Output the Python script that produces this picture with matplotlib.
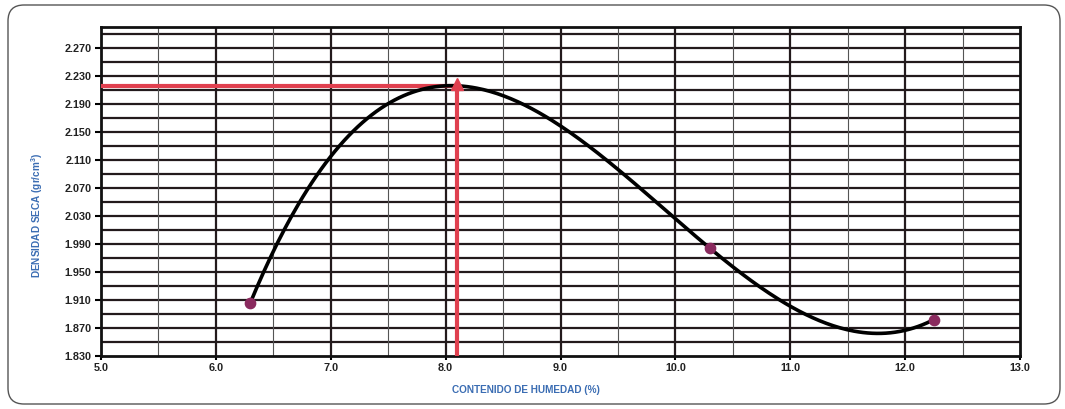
import numpy as np
from matplotlib import pyplot as plt
from matplotlib.patches import FancyBboxPatch

humedad = [6.30, 8.10, 10.30, 12.25]
densidad = [1.906, 2.216, 1.984, 1.882]
humedad_opt = 8.10
densidad_max = 2.216

x_ticks = [5.0, 6.0, 7.0, 8.0, 9.0, 10.0, 11.0, 12.0, 13.0]
y_ticks = [1.830, 1.870, 1.910, 1.950, 1.990, 2.030, 2.070, 2.110, 2.150, 2.190, 2.230, 2.270]

BLUE = "#3b6db3"
plt.rcParams["font.family"] = ["Liberation Sans", "DejaVu Sans"]
plt.rcParams["mathtext.fontset"] = "custom"
plt.rcParams["mathtext.bf"] = "Liberation Sans:bold"

W, H = 1065, 409
fig = plt.figure(figsize=(W / 100, H / 100), dpi=100)
frame = FancyBboxPatch((8 / W, 5 / H), 1052 / W, 399 / H, boxstyle="round,pad=0,rounding_size=0.015",
                       transform=fig.transFigure, facecolor="white", edgecolor="#555555",
                       linewidth=1.0, mutation_aspect=W / H, zorder=-10)
fig.patches.append(frame)
ax = fig.add_axes([101 / W, 1 - 356 / H, 919 / W, 329 / H])

ax.set_xlim(5.0, 13.0)
ax.set_ylim(1.830, 2.300)

# grid
for yv in np.arange(1.850, 2.300, 0.02):
    ax.axhline(yv, color="#231a1c", linewidth=1.6, zorder=1)
for xv in np.arange(5.5, 13.0, 0.5):
    major = abs(xv - round(xv)) < 1e-6
    ax.axvline(xv, color="#231a1c" if major else "#555555",
               linewidth=1.6 if major else 0.8, zorder=1)

# curve
coef = np.polyfit(humedad, densidad, 3)
xs = np.linspace(min(humedad), max(humedad), 300)
ax.plot(xs, np.polyval(coef, xs), color="black", linewidth=2.6, zorder=4)

# optimum lines
ax.plot([5.0, humedad_opt], [densidad_max, densidad_max], color="#e0404f", linewidth=3.0, zorder=3)
ax.plot([humedad_opt, humedad_opt], [1.830, densidad_max], color="#e0404f", linewidth=3.0, zorder=3)
ax.plot([humedad_opt], [densidad_max + 0.003], marker="^", color="#e0404f", markersize=8, zorder=5)

pts = [(h, d) for h, d in zip(humedad, densidad) if h != humedad_opt]
ax.scatter([p[0] for p in pts], [p[1] for p in pts], s=55, color="#8a2a5e", zorder=5)

for sp in ax.spines.values():
    sp.set_linewidth(2.0)
    sp.set_color("#111111")

ax.set_xticks(x_ticks)
ax.set_xticklabels([f"{v:.1f}" for v in x_ticks])
ax.set_yticks(y_ticks)
ax.set_yticklabels([f"{v:.3f}" for v in y_ticks])
ax.tick_params(axis="both", labelsize=7.8, width=1.5, length=4, direction="out")
ax.tick_params(axis="x", length=3, pad=2)
ax.tick_params(axis="y", pad=3)
for lbl in ax.get_xticklabels() + ax.get_yticklabels():
    lbl.set_fontweight("bold")
    lbl.set_color("#222222")

ax.set_xlabel("CONTENIDO DE HUMEDAD (%)", fontsize=7.2, fontweight="bold", color=BLUE)
ax.xaxis.label.set_va("center")
ax.xaxis.set_label_coords((526 - 101) / 919, -(390 - 356) / 329)
ax.set_ylabel("DENSIDAD SECA (gr/cm$^\\mathbf{3}$)", fontsize=7.2, fontweight="bold", color=BLUE)
ax.yaxis.label.set_va("center")
ax.yaxis.set_label_coords((37 - 101) / 919, (356 - 215) / 329)

fig.savefig("out.png", dpi=100)
